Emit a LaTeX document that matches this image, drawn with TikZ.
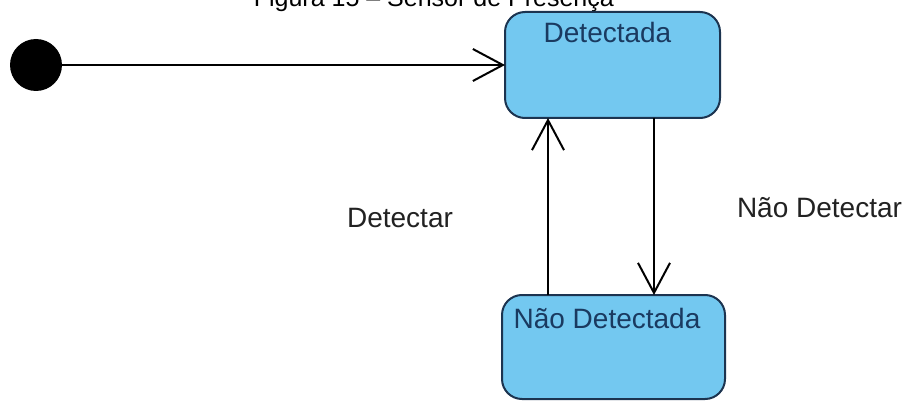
\documentclass[tikz,border=0pt]{standalone}
\usepackage{fontspec}
\setmainfont{Liberation Sans}
\usetikzlibrary{arrows.meta}
\definecolor{statefill}{RGB}{115,200,240}
\definecolor{stateedge}{RGB}{28,52,80}
\definecolor{statetext}{RGB}{26,58,96}
\definecolor{labeltext}{RGB}{34,34,34}
\tikzset{
  statebox/.style={draw=stateedge, fill=statefill, line width=2pt,
    rounded corners=20pt, inner sep=0pt, outer sep=0pt},
  statename/.style={text=statetext, font=\fontsize{28}{32}\selectfont,
    inner sep=0pt, anchor=base},
  translabel/.style={text=labeltext, font=\fontsize{28}{32}\selectfont,
    inner sep=0pt, anchor=base},
  transition/.style={line width=2pt, black,
    -{Straight Barb[length=30pt,width=32pt]}},
}
\begin{document}
\begin{tikzpicture}[x=1pt,y=-1pt]
  \useasboundingbox (0,0) rectangle (910,401);
  \clip (0,0) rectangle (910,401);
  \fill[white] (0,0) rectangle (910,401);

  % caption line, partly above the page edge
  \node[anchor=base east, inner sep=0pt, font=\fontsize{25}{30}\selectfont]
    (caption) at (614,7) {Figura 15 – Sensor de Presença};

  % initial pseudo-state
  \node[circle, fill=black, minimum size=52pt, inner sep=0pt, outer sep=0pt]
    (init) at (36,65) {};

  % states
  \node[statebox, minimum width=215pt, minimum height=106pt]
    (det) at (612.5,65) {};
  \node[statename] (detname) at (607.5,43) {Detectada};

  \node[statebox, minimum width=223pt, minimum height=104pt]
    (ndet) at (613.5,347) {};
  \node[statename] (ndetname) at (607,328) {Não Detectada};

  % transitions
  \draw[transition] (init.east) -- (det.west);
  \draw[transition] (ndet.north -| 548,0) -- (det.south -| 548,0);
  \draw[transition] (det.south -| 654,0) -- (ndet.north -| 654,0);

  % transition labels
  \node[translabel] (lblup) at (400,227) {Detectar};
  \node[translabel] (lbldown) at (819.5,217) {Não Detectar};
\end{tikzpicture}
\end{document}
